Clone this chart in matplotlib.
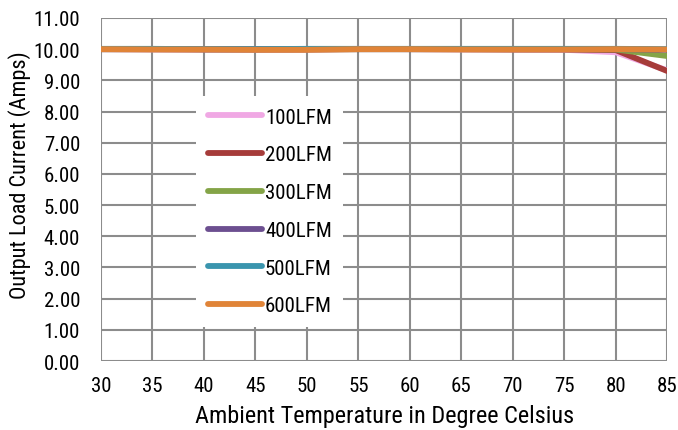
import matplotlib
matplotlib.use("Agg")
import matplotlib.pyplot as plt

temps = [30, 35, 40, 45, 50, 55, 60, 65, 70, 75, 80, 85]
lfm_100 = [10.0, 9.99, 9.99, 9.98, 9.99, 10.01, 10.0, 9.99, 9.99, 9.98, 9.90, 9.32]
lfm_200 = [10.0, 10.0, 9.99, 9.99, 9.99, 10.0, 10.0, 10.0, 9.99, 9.99, 9.97, 9.30]
lfm_300 = [10.0, 10.0, 10.0, 10.0, 10.0, 10.0, 10.0, 10.0, 10.0, 10.0, 9.99, 9.78]
lfm_400 = [10.0, 10.0, 10.0, 10.0, 10.0, 10.0, 10.0, 10.0, 10.0, 10.0, 10.0, 9.98]
lfm_500 = [10.01, 10.01, 10.0, 10.0, 10.01, 10.01, 10.01, 10.01, 10.01, 10.01, 10.01, 10.0]
lfm_600 = [10.0, 9.99, 9.99, 9.98, 9.98, 10.0, 10.0, 9.99, 9.99, 9.99, 10.0, 9.99]
series = [lfm_100, lfm_200, lfm_300, lfm_400, lfm_500, lfm_600]
labels = ["100LFM", "200LFM", "300LFM", "400LFM", "500LFM", "600LFM"]
colors = ["#f0a8e4", "#a63c3a", "#84a447", "#6c4f90", "#3a95ae", "#e08438"]

plt.rcParams['font.family'] = ['Roboto Condensed', 'DejaVu Sans']

fig = plt.figure(figsize=(6.78, 4.31), dpi=100)
ax = fig.add_axes([0.149, 0.160, 0.835, 0.796])

for vals, lab, c in zip(series, labels, colors):
    ax.plot(temps, vals, color=c, lw=4.2, label=lab, solid_capstyle='round')

ax.set_xlim(30, 85)
ax.set_ylim(0, 11)
ax.set_xticks(temps)
ax.set_yticks(range(0, 12))
ax.set_yticklabels(["%.2f" % v for v in range(0, 12)])
ax.grid(True, color='#8c8c8c', lw=1.5)
ax.set_axisbelow(True)
for s in ax.spines.values():
    s.set_visible(False)
ax.tick_params(length=0, labelsize=15)
ax.tick_params(axis='y', pad=15)
ax.tick_params(axis='x', pad=11)

ax.set_xlabel("Ambient Temperature in Degree Celsius", fontsize=17.5, labelpad=6)
ax.set_ylabel("Output Load Current (Amps)", fontsize=16)
ax.yaxis.set_label_coords(-0.124, 0.545)

leg = ax.legend(loc='upper left', bbox_to_anchor=(0.168, 0.772), frameon=True, fancybox=False,
                edgecolor='none', facecolor='white', framealpha=1.0, fontsize=15,
                handlelength=2.6, handletextpad=0.15, labelspacing=0.9, borderpad=0.55,
                borderaxespad=0)

fig.savefig("out.png", dpi=100)
